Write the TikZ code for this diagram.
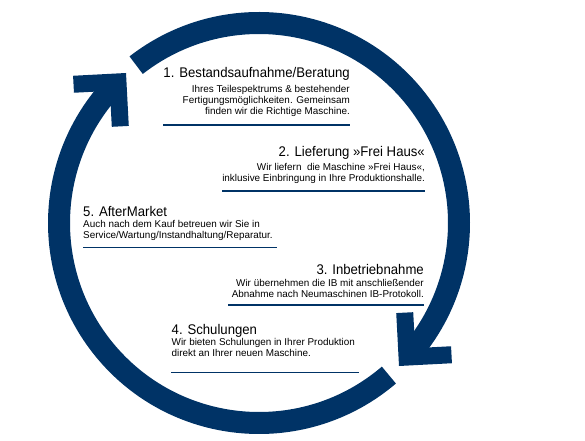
\documentclass[tikz,border=0pt]{standalone}
\usepackage{fontspec}
\setmainfont{Liberation Sans}
\newfontfamily\headfont{Liberation Sans}[FakeStretch=0.94]
\usepackage{xcolor}
\usepackage{tikz}
\usetikzlibrary{positioning}
\definecolor{ringblue}{RGB}{0,51,102}
\tikzset{
  ring/.style={draw=ringblue,line width=22pt},
  barb/.style={fill=ringblue},
  steptitle/.style={inner sep=0pt,font=\headfont\fontsize{14}{16}\selectfont},
  stepbody/.style={inner sep=0pt,align=right,font=\fontsize{9.9}{10.8}\selectfont},
  steprule/.style={draw=ringblue,line width=1.3pt}
}

\begin{document}
\begin{tikzpicture}[x=1pt,y=1pt]
    \useasboundingbox (0,0) rectangle (585,440);
    \coordinate (c) at (259,217);

    % ring with two arrows
    \draw[ring] ([shift={(127.9:200)}]c) arc[start angle=127.9,end angle=-40,radius=200];
    \draw[ring] ([shift={(-49.5:200)}]c) arc[start angle=-49.5,end angle=-222,radius=200];
    \fill[barb,shift={(399,74)},rotate=3] (0,0) -- (0,53) -- (17,53) -- (17,17) -- (53,17) -- (53,0) -- cycle;
    \fill[barb,shift={(126,367)},rotate=183] (0,0) -- (0,53) -- (17,53) -- (17,17) -- (53,17) -- (53,0) -- cycle;

    % 1 (base = last line)
    \node[steptitle,anchor=base east] (t1) at (350,362.5) {1. Bestandsaufnahme/Beratung};
    \node[stepbody,anchor=base east] (d1) at (350,325.7) {Ihres Teilespektrums \& bestehender\\Fertigungsmöglichkeiten. Gemeinsam\\finden wir die Richtige Maschine.};
    \draw[steprule] (163,315) -- (350,315);

    % 2
    \node[steptitle,anchor=base east] (t2) at (425,283.3) {2. Lieferung »Frei Haus«};
    \node[stepbody,anchor=base east] (d2) at (425,258.5) {Wir liefern~ die Maschine »Frei Haus«,\\inklusive Einbringung in Ihre Produktionshalle.};
    \draw[steprule] (222,249) -- (425,249);

    % 5
    \node[steptitle,anchor=base west] (t5) at (83,223.3) {5. AfterMarket};
    \node[stepbody,align=left,anchor=base west] (d5) at (83,201.5) {Auch nach dem Kauf betreuen wir Sie in\\Service/Wartung/Instandhaltung/Reparatur.};
    \draw[steprule] (83,192.3) -- (277,192.3);

    % 3
    \node[steptitle,anchor=base east] (t3) at (424,165.7) {3. Inbetriebnahme};
    \node[stepbody,anchor=base east] (d3) at (424,142.5) {Wir übernehmen die IB mit anschließender\\Abnahme nach Neumaschinen IB-Protokoll.};
    \draw[steprule] (228,135) -- (424,135);

    % 4
    \node[steptitle,anchor=base west] (t4) at (171.5,105.7) {4. Schulungen};
    \node[stepbody,align=left,anchor=base west] (d4) at (171.5,83.5) {Wir bieten Schulungen in Ihrer Produktion\\direkt an Ihrer neuen Maschine.};
    \draw[steprule] (171,67.7) -- (359,67.7);
\end{tikzpicture}
\end{document}
